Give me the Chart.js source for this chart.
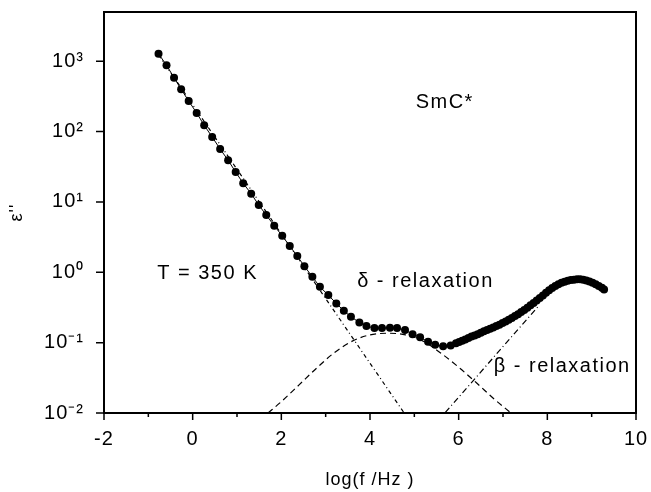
<!DOCTYPE html>
<html>
<head>
<meta charset="utf-8">
<script src="https://cdn.jsdelivr.net/npm/chart.js@4.4.1/dist/chart.umd.min.js"></script>
<style>
  html, body { margin: 0; padding: 0; background: #fff; }
  #wrap { width: 651px; height: 492px; }
</style>
</head>
<body>
<div id="wrap"><canvas id="c" width="651" height="492"></canvas></div>
<script>
// ---- data ----
const dataX = [-0.77,-0.59,-0.42,-0.26,-0.09,0.09,0.26,0.44,0.62,0.80,0.97,1.14,1.32,1.49,1.66,1.84,2.02,2.19,2.36,2.52,2.70,2.87,3.06,3.24,3.41,3.57,3.76,3.92,4.10,4.27,4.45,4.61,4.79,4.96,5.13,5.31,5.47,5.65,5.82,
  5.94,6.01,6.08,6.15,6.22,6.29,6.36,6.43,6.50,6.57,6.64,6.71,6.78,6.85,6.92,6.99,7.06,7.13,7.20,7.27,7.34,7.41,7.48,7.55,7.62,7.69,7.76,7.83,7.90,7.97,8.04,8.11,8.18,8.25,8.32,8.39,8.46,8.53,8.60,8.67,8.74,8.81,8.88,8.95,9.02,9.09,9.16,9.23,9.28];
const dataY = [1282,877,585,400,272,184,123,83.8,56.5,39.1,26.6,18.4,13.1,9.04,6.52,4.58,3.30,2.36,1.70,1.22,0.863,0.622,0.474,0.361,0.284,0.233,0.194,0.172,0.161,0.161,0.163,0.161,0.151,0.132,0.119,0.103,0.0931,0.0891,0.0912,
  0.0977,0.102,0.106,0.111,0.116,0.122,0.126,0.132,0.138,0.145,0.151,0.158,0.164,0.172,0.180,0.191,0.200,0.211,0.224,0.240,0.254,0.272,0.292,0.313,0.339,0.367,0.398,0.432,0.468,0.513,0.556,0.596,0.638,0.676,0.708,0.733,0.759,0.776,0.785,0.794,0.794,0.785,0.767,0.741,0.708,0.676,0.638,0.603,0.569];

// conductivity contribution (dash-dot-dot)
const condX = [-0.77, 4.77];
const condY = [1230, 0.01];
// delta relaxation (dashed)
const deltaX = [1.70,2.0,2.4,2.8,3.2,3.6,4.0,4.4,4.8,5.2,5.6,6.0,6.4,6.8,7.18];
const deltaY = [0.0100,0.0145,0.0251,0.0437,0.0724,0.105,0.129,0.136,0.129,0.105,0.0708,0.0447,0.0269,0.0158,0.0100];
// beta relaxation (dash-dot)
const betaX = [5.70, 7.78];
const betaY = [0.0102, 0.32];

const xMajorTicks = [-2,0,2,4,6,8,10];
const xMinorTicks = [-1,1,3,5,7,9];
const yTicks = [0.01,0.1,1,10,100,1000];
const yTickLabels = ['10\u207B\u00B2','10\u207B\u00B9','10\u2070','10\u00B9','10\u00B2','10\u00B3'];

const annotations = [
  {text: 'SmC*', x: 5.03, y: 257},
  {text: 'T = 350 K', x: -0.80, y: 0.96},
  {text: '\u03B4 - relaxation', x: 3.71, y: 0.733},
  {text: '\u03B2 - relaxation', x: 6.79, y: 0.0453}
];

const FONT = "'Liberation Sans', Arial, Helvetica, sans-serif";

function pts(xs, ys) { return xs.map((x, i) => ({x: x, y: ys[i]})); }

const framePlugin = {
  id: 'frame',
  beforeDraw(chart) {
    chart.ctx.letterSpacing = '1px';
  },
  afterDraw(chart) {
    const ctx = chart.ctx;
    const a = chart.chartArea;
    const xs = chart.scales.x, ys = chart.scales.y;
    ctx.save();
    ctx.strokeStyle = '#000';
    ctx.lineWidth = 2;
    ctx.strokeRect(a.left, a.top, a.right - a.left, a.bottom - a.top);
    ctx.lineWidth = 1.5;
    ctx.beginPath();
    xMajorTicks.forEach(v => { const p = xs.getPixelForValue(v); ctx.moveTo(p, a.bottom); ctx.lineTo(p, a.bottom + 7); });
    xMinorTicks.forEach(v => { const p = xs.getPixelForValue(v); ctx.moveTo(p, a.bottom); ctx.lineTo(p, a.bottom + 4); });
    yTicks.forEach(v => { const p = ys.getPixelForValue(v); ctx.moveTo(a.left - 8, p); ctx.lineTo(a.left, p); });
    ctx.stroke();
    ctx.fillStyle = '#000';
    ctx.font = '20px ' + FONT;
    ctx.letterSpacing = '1.5px';
    ctx.textBaseline = 'middle';
    ctx.textAlign = 'left';
    annotations.forEach(t => {
      ctx.fillText(t.text, xs.getPixelForValue(t.x), ys.getPixelForValue(t.y));
    });
    ctx.restore();
  }
};

new Chart(document.getElementById('c'), {
  type: 'scatter',
  data: {
    datasets: [
      { label: 'data', data: pts(dataX, dataY), showLine: true, borderColor: '#000', borderWidth: 1,
        pointRadius: 4, pointBackgroundColor: '#000', pointBorderWidth: 0, order: 0 },
      { label: 'cond', data: pts(condX, condY), showLine: true, borderColor: '#000', borderWidth: 1.2,
        borderDash: [4,3,1,3], pointRadius: 0, order: 1 },
      { label: 'delta', data: pts(deltaX, deltaY), showLine: true, borderColor: '#000', borderWidth: 1.2,
        borderDash: [6,4], pointRadius: 0, cubicInterpolationMode: 'monotone', order: 2 },
      { label: 'beta', data: pts(betaX, betaY), showLine: true, borderColor: '#000', borderWidth: 1.2,
        borderDash: [6,3,1,3], pointRadius: 0, order: 3 }
    ]
  },
  options: {
    responsive: false,
    animation: false,
    events: [],
    layout: { padding: { top: 12, right: 15, left: 0, bottom: 0 } },
    plugins: { legend: { display: false }, tooltip: { enabled: false } },
    scales: {
      x: {
        type: 'linear', min: -2, max: 10,
        grid: { display: false, drawTicks: false },
        border: { display: false },
        afterBuildTicks(s) { s.ticks = xMajorTicks.map(v => ({value: v})); },
        afterFit(s) { s.height = 79; s.paddingLeft = 0; s.paddingRight = 0; },
        ticks: { color: '#000', font: { family: FONT, size: 20 }, padding: 14, maxRotation: 0, autoSkip: false,
                 callback: v => String(v) },
        title: { display: true, text: 'log(f /Hz )', color: '#000', font: { family: FONT, size: 18 },
                 padding: { top: 0, bottom: 1 } }
      },
      y: {
        type: 'logarithmic', min: 0.01, max: 5012,
        grid: { display: false, drawTicks: false },
        border: { display: false },
        afterBuildTicks(s) { s.ticks = yTicks.map(v => ({value: v})); },
        afterFit(s) { s.width = 104; s.paddingTop = 0; s.paddingBottom = 0; },
        ticks: { color: '#000', font: { family: FONT, size: 20 }, padding: 20, autoSkip: false,
                 callback: function(v) { const i = yTicks.indexOf(v); return i >= 0 ? yTickLabels[i] : ''; } },
        title: { display: true, text: '\u03B5\'\'', color: '#000', font: { family: FONT, size: 18 },
                 padding: { top: 6, bottom: 0 } }
      }
    }
  },
  plugins: [framePlugin]
});
</script>
</body>
</html>
